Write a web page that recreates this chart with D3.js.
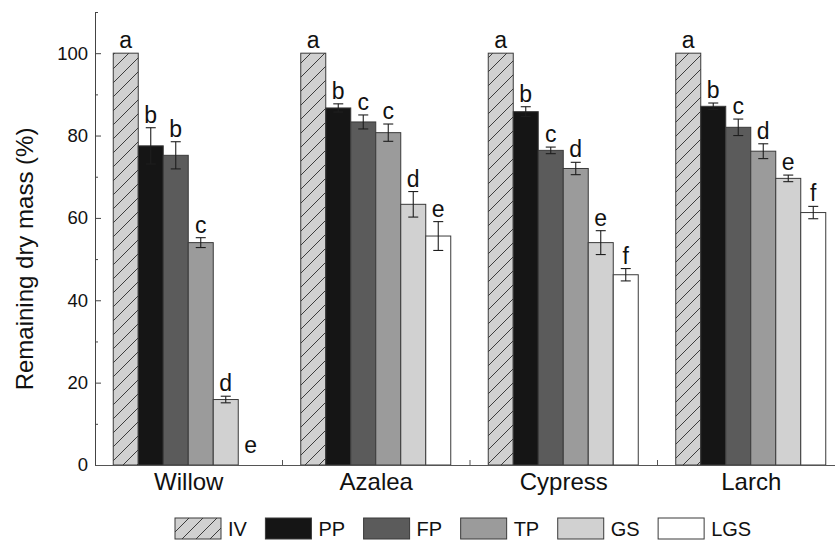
<!DOCTYPE html>
<html>
<head>
<meta charset="utf-8">
<script src="https://cdn.jsdelivr.net/npm/d3@7"></script>
<style>
  html, body { margin: 0; padding: 0; background: #fff; }
  svg { display: block; font-family: "Liberation Sans", Arial, sans-serif; }
</style>
</head>
<body>
<div id="chart"></div>
<script>
// Data
const groups = ['Willow', 'Azalea', 'Cypress', 'Larch'];
const series = ['IV', 'PP', 'FP', 'TP', 'GS', 'LGS'];

// remaining dry mass (%) per group, in series order
const values = [
  [100, 77.5, 75.2, 54.0, 15.9, 0],
  [100, 86.7, 83.3, 80.7, 63.3, 55.6],
  [100, 85.8, 76.4, 72.0, 54.0, 46.2],
  [100, 87.1, 82.0, 76.2, 69.6, 61.3]
];
const errors = [
  [0, 4.4, 3.3, 1.2, 0.8, 0],
  [0, 1.0, 1.7, 2.1, 3.1, 3.5],
  [0, 1.2, 0.8, 1.5, 2.9, 1.5],
  [0, 0.8, 2.0, 1.8, 0.8, 1.5]
];
const letters = [
  ['a', 'b', 'b', 'c', 'd', 'e'],
  ['a', 'b', 'c', 'c', 'd', 'e'],
  ['a', 'b', 'c', 'd', 'e', 'f'],
  ['a', 'b', 'c', 'd', 'e', 'f']
];
const majorTicks = [0, 20, 40, 60, 80, 100];
const minorTicks = [10, 30, 50, 70, 90, 110];

const fills = { IV: 'url(#hatch)', PP: '#151515', FP: '#5b5b5b', TP: '#9b9b9b', GS: '#d1d1d1', LGS: '#ffffff' };

const width = 835, height = 541;
const plotLeft = 95, plotRight = 845, plotBottom = 465, plotTop = 12;

const svg = d3.select('#chart').append('svg')
  .attr('width', width)
  .attr('height', height)
  .attr('viewBox', [0, 0, width, height]);

// hatch pattern for IV
const defs = svg.append('defs');
const pat = defs.append('pattern')
  .attr('id', 'hatch')
  .attr('patternUnits', 'userSpaceOnUse')
  .attr('width', 14)
  .attr('height', 14);
pat.append('rect').attr('width', 14).attr('height', 14).attr('fill', '#d0d0d0');
pat.append('path')
  .attr('d', 'M0,14 L14,0 M-3.5,3.5 L3.5,-3.5 M10.5,17.5 L17.5,10.5')
  .attr('stroke', '#2a2a2a')
  .attr('stroke-width', 0.9);

// scales
const x0 = d3.scaleBand().domain(groups).range([plotLeft, plotRight]);
const x1 = d3.scaleBand().domain(series).range([18.25, 168.25]);
const y = d3.scaleLinear().domain([0, 110]).range([plotBottom, plotTop]);

// rows for drawing
const rows = [];
groups.forEach((g, gi) => {
  series.forEach((s, si) => {
    rows.push({ group: g, series: s, value: values[gi][si], err: errors[gi][si], letter: letters[gi][si] });
  });
});

// bars
svg.append('g')
  .selectAll('rect')
  .data(rows.filter(d => d.value > 0))
  .join('rect')
  .attr('x', d => x0(d.group) + x1(d.series))
  .attr('y', d => y(d.value))
  .attr('width', x1.bandwidth())
  .attr('height', d => y(0) - y(d.value))
  .attr('fill', d => fills[d.series])
  .attr('stroke', '#3a3a3a')
  .attr('stroke-width', 1);

// error bars
const eb = svg.append('g')
  .attr('stroke', '#1e1e1e')
  .attr('stroke-width', 1.1)
  .selectAll('g')
  .data(rows.filter(d => d.err > 0))
  .join('g')
  .attr('transform', d => `translate(${x0(d.group) + x1(d.series) + x1.bandwidth() / 2},0)`);
eb.append('line')
  .attr('y1', d => y(d.value + d.err))
  .attr('y2', d => y(d.value - d.err));
eb.append('line')
  .attr('x1', -5).attr('x2', 5)
  .attr('y1', d => y(d.value + d.err))
  .attr('y2', d => y(d.value + d.err));
eb.append('line')
  .attr('x1', -5).attr('x2', 5)
  .attr('y1', d => y(d.value - d.err))
  .attr('y2', d => y(d.value - d.err));

// significance letters
svg.append('g')
  .selectAll('text')
  .data(rows)
  .join('text')
  .attr('x', d => x0(d.group) + x1(d.series) + x1.bandwidth() / 2)
  .attr('y', d => Math.min(y(d.value + d.err) - 5, y(0) - 12))
  .attr('text-anchor', 'middle')
  .style('font-size', '23px')
  .style('fill', '#111')
  .text(d => d.letter);

// y axis (ticks pointing inward)
const yAxis = svg.append('g')
  .attr('transform', `translate(${plotLeft},0)`)
  .call(d3.axisLeft(y).tickValues(majorTicks).tickSize(-6).tickSizeOuter(0).tickPadding(7));
yAxis.selectAll('text')
  .style('font-size', '18.5px')
  .style('font-family', '"Liberation Sans", Arial, sans-serif')
  .style('fill', '#111');
yAxis.selectAll('path, line').attr('stroke', '#444');

svg.append('g')
  .attr('transform', `translate(${plotLeft},0)`)
  .call(d3.axisLeft(y).tickValues(minorTicks).tickSize(-3).tickSizeOuter(0).tickFormat(''))
  .call(g => g.select('.domain').remove())
  .selectAll('line').attr('stroke', '#444');

// x axis
const xAxis = svg.append('g')
  .attr('transform', `translate(0,${plotBottom})`)
  .call(d3.axisBottom(x0).tickSize(0).tickSizeOuter(0).tickPadding(8));
xAxis.select('.domain').attr('stroke', '#555');
xAxis.selectAll('text')
  .style('font-size', '24px')
  .style('font-family', '"Liberation Sans", Arial, sans-serif')
  .style('fill', '#111');

// group boundary ticks
svg.append('g')
  .selectAll('line')
  .data(groups)
  .join('line')
  .attr('x1', d => x0(d) + x0.bandwidth())
  .attr('x2', d => x0(d) + x0.bandwidth())
  .attr('y1', plotBottom)
  .attr('y2', plotBottom - 5)
  .attr('stroke', '#555');

// y axis title
svg.append('text')
  .attr('transform', `translate(32.5,259) rotate(-90)`)
  .attr('text-anchor', 'middle')
  .style('font-size', '24px')
  .style('fill', '#111')
  .text('Remaining dry mass (%)');

// legend
const legend = svg.append('g').attr('transform', 'translate(175,518)');
let lx = 0;
series.forEach(s => {
  const item = legend.append('g').attr('transform', `translate(${lx},0)`);
  item.append('rect')
    .attr('width', 46)
    .attr('height', 21)
    .attr('fill', fills[s])
    .attr('stroke', '#3a3a3a')
    .attr('stroke-width', 1);
  const t = item.append('text')
    .attr('x', 53)
    .attr('y', 18)
    .style('font-size', '20px')
    .style('fill', '#111')
    .text(s);
  lx += 53 + t.node().getComputedTextLength() + 18.5;
});
</script>
</body>
</html>
